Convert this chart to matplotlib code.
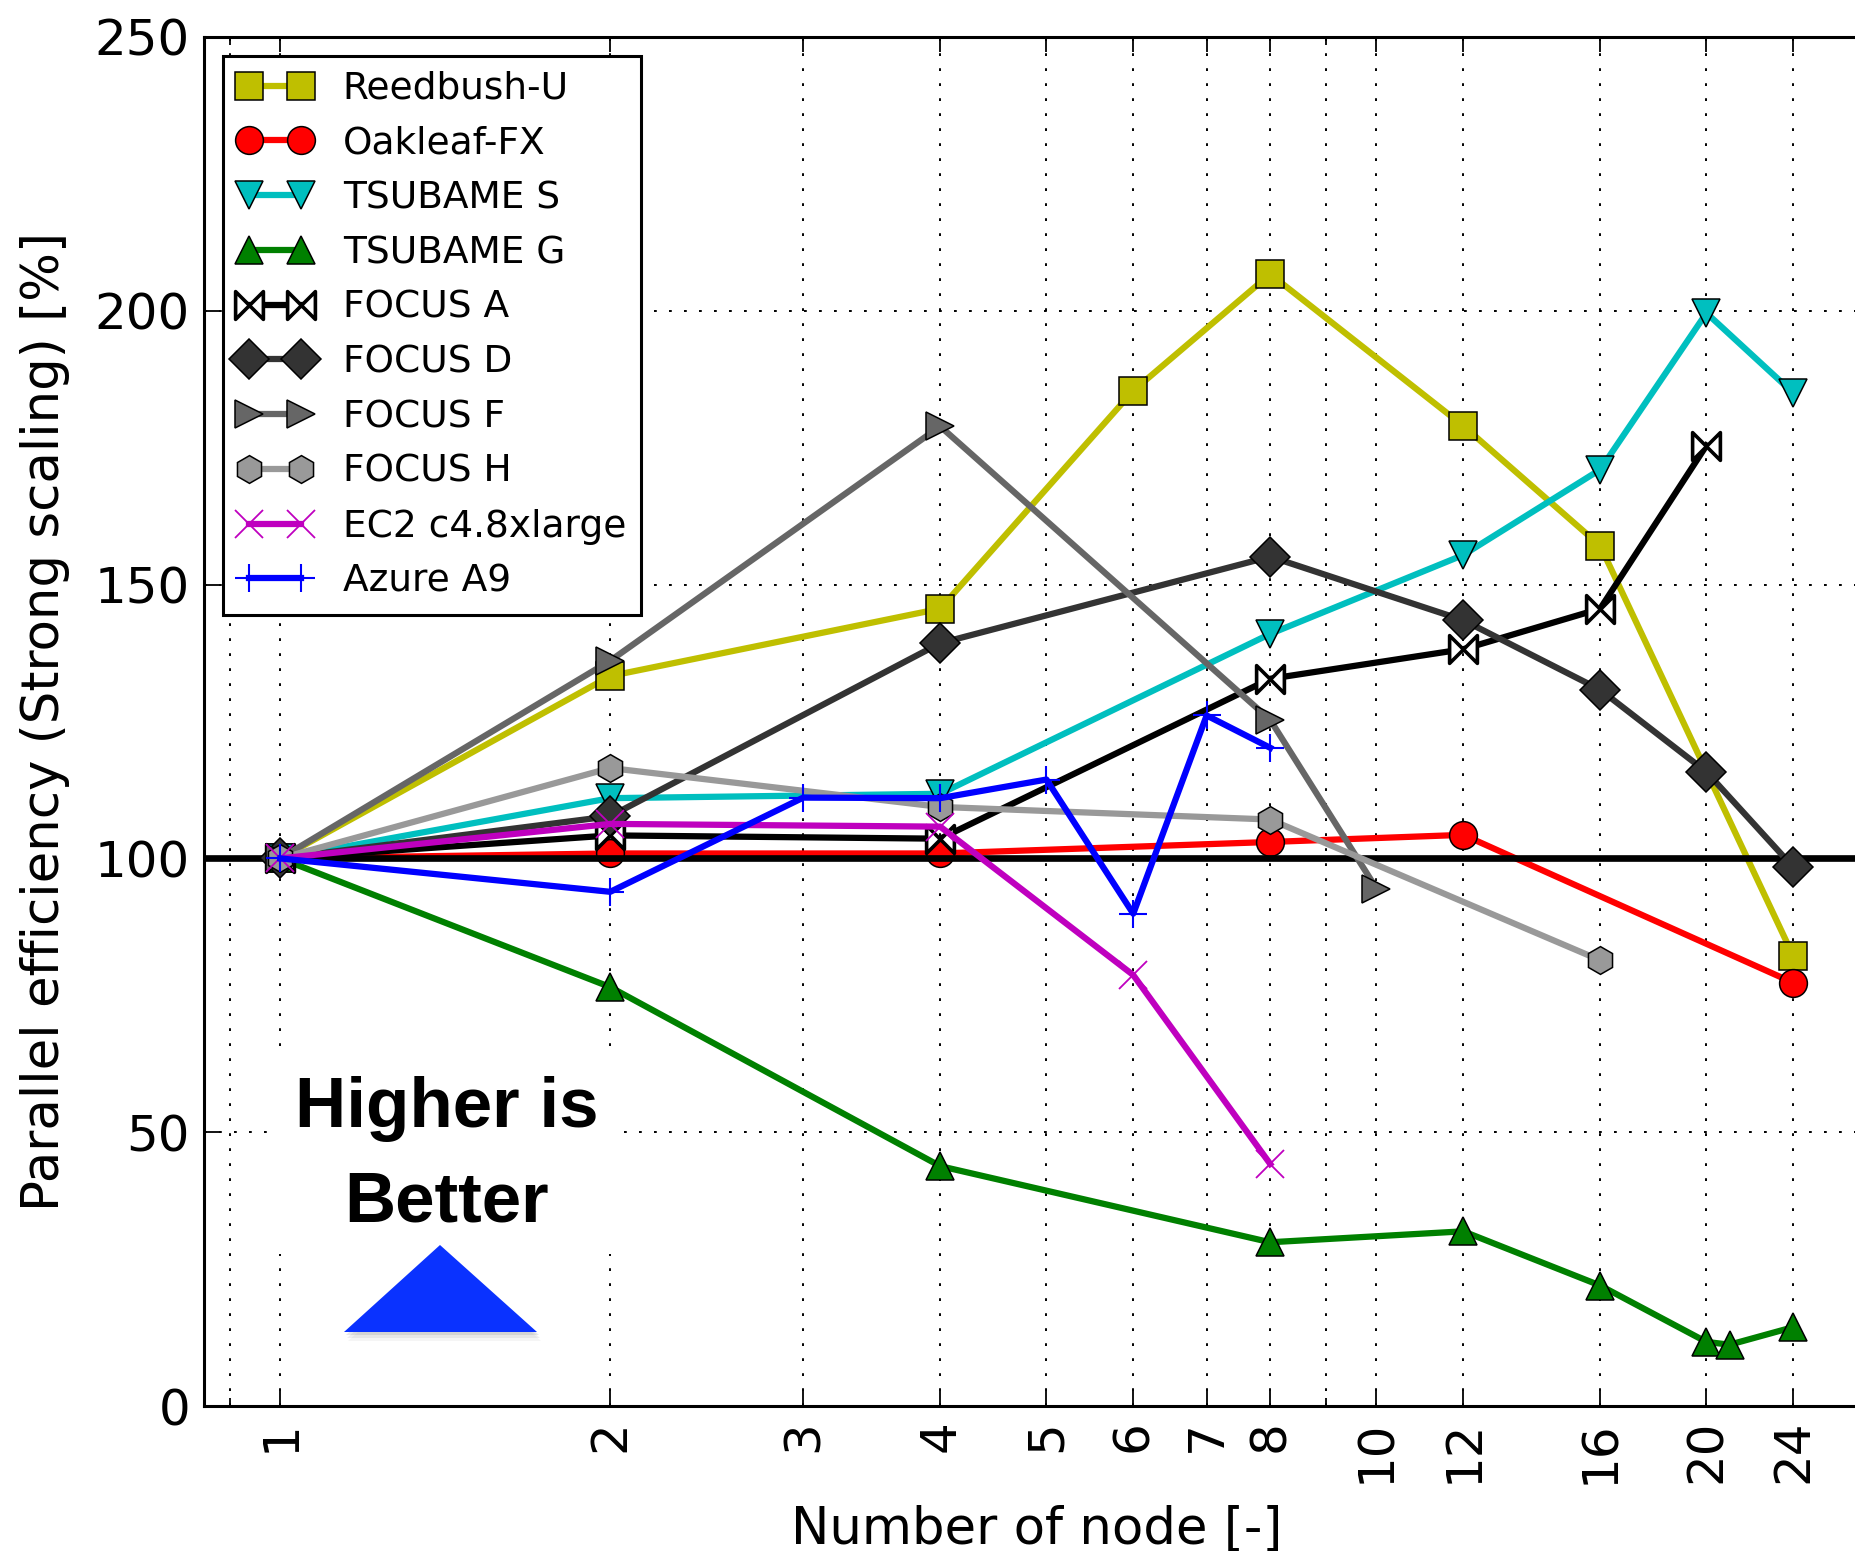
import numpy as np
import matplotlib
matplotlib.use('Agg')
import matplotlib.pyplot as plt
from matplotlib.path import Path
from matplotlib.patches import Polygon
from matplotlib.ticker import NullFormatter

plt.rcParams['lines.scale_dashes'] = False
plt.rcParams['font.family'] = ['DejaVu Sans']

# data (x = number of nodes, y = parallel efficiency %)
reedbush_x = [1, 2, 4, 6, 8, 12, 16, 24]
reedbush_y = [100, 133.3, 145.6, 185.4, 206.7, 179.0, 157.1, 82.2]
oakleaf_x = [1, 2, 4, 8, 12, 24]
oakleaf_y = [100, 100.9, 100.9, 103.0, 104.3, 77.3]
tsubame_s_x = [1, 2, 4, 8, 12, 16, 20, 24]
tsubame_s_y = [100, 111.0, 111.8, 141.0, 155.4, 171.0, 199.6, 185.0]
tsubame_g_x = [1, 2, 4, 8, 12, 16, 20, 21, 24]
tsubame_g_y = [100, 76.5, 43.8, 29.9, 31.9, 22.0, 11.7, 11.2, 14.4]
focus_a_x = [1, 2, 4, 8, 12, 16, 20]
focus_a_y = [100, 104.2, 103.6, 132.8, 138.2, 145.6, 175.4]
focus_d_x = [1, 2, 4, 8, 12, 16, 20, 24]
focus_d_y = [100, 107.7, 139.3, 155.1, 143.5, 130.8, 115.8, 98.4]
focus_f_x = [1, 2, 4, 8, 10]
focus_f_y = [100, 136.1, 178.9, 125.3, 94.5]
focus_h_x = [1, 2, 4, 8, 16]
focus_h_y = [100, 116.5, 109.4, 107.1, 81.4]
ec2_x = [1, 2, 4, 6, 8]
ec2_y = [100, 106.3, 105.8, 78.7, 44.2]
azure_x = [1, 2, 3, 4, 5, 6, 7, 8]
azure_y = [100, 93.9, 111.1, 111.0, 114.4, 89.9, 126.1, 120.2]

xticks = [1, 2, 3, 4, 5, 6, 7, 8, 10, 12, 16, 20, 24]
xtick_labels = ['1', '2', '3', '4', '5', '6', '7', '8', '10', '12', '16', '20', '24']
yticks = [0, 50, 100, 150, 200, 250]

W, H = 1856, 1551
fig = plt.figure(figsize=(W / 100, H / 100), dpi=100)
ax = fig.add_axes([204 / W, (H - 1406) / H, (1870 - 204) / W, (1406 - 37) / H])

def px(x, y):
    return (x / W, 1 - y / H)

# 蝶形标记 (FOCUS A)
bowtie = Path([(-1, 1), (-1, -1), (1, 1), (1, -1), (-1, 1)],
              [Path.MOVETO, Path.LINETO, Path.LINETO, Path.LINETO, Path.CLOSEPOLY])

LW = 4.5
MS = 20
MEW = 1.1
yel = (0.75, 0.75, 0)
cya = (0, 0.75, 0.75)
grn = (0, 0.5, 0)
mag = (0.75, 0, 0.75)

ax.plot(reedbush_x, reedbush_y, '-s', color=yel, lw=LW, ms=MS, mec='k', mew=MEW, label='Reedbush-U')
ax.plot(oakleaf_x, oakleaf_y, '-o', color='r', lw=LW, ms=MS, mec='k', mew=MEW, label='Oakleaf-FX')
ax.axhline(100, color='k', lw=4.8)
ax.plot(tsubame_s_x, tsubame_s_y, '-v', color=cya, lw=LW, ms=MS, mec='k', mew=MEW, label='TSUBAME S')
ax.plot(tsubame_g_x, tsubame_g_y, '-^', color=grn, lw=LW, ms=MS, mec='k', mew=MEW, label='TSUBAME G')
ax.plot(focus_a_x, focus_a_y, '-', marker=bowtie, color='k', lw=LW, ms=MS, mfc='w', mec='k', mew=2.6, label='FOCUS A')
ax.plot(focus_d_x, focus_d_y, '-D', color='#333333', lw=LW, ms=MS, mec='k', mew=MEW, label='FOCUS D')
ax.plot(focus_f_x, focus_f_y, '->', color='#666666', lw=LW, ms=MS, mec='k', mew=MEW, label='FOCUS F')
ax.plot(focus_h_x, focus_h_y, '-h', color='#999999', lw=LW, ms=MS, mec='k', mew=MEW, label='FOCUS H')
ax.plot(ec2_x, ec2_y, '-x', color=mag, lw=LW, ms=MS, mew=1.3, label='EC2 c4.8xlarge')
ax.plot(azure_x, azure_y, '-+', color='b', lw=LW, ms=MS, mew=1.5, label='Azure A9')

ax.set_xscale('log')
ax.set_xlim(0.852, 28.2)
ax.set_ylim(0, 250)
ax.set_xticks(xticks, xtick_labels)
ax.set_xticks([0.9, 9], minor=True)
ax.xaxis.set_minor_formatter(NullFormatter())
ax.set_yticks(yticks)

ax.tick_params(which='major', direction='in', length=11, width=1.3, top=True, right=True,
               labelsize=36, pad=10)
ax.tick_params(which='minor', direction='in', length=6, width=1.3, top=True, right=True)
ax.tick_params(axis='x', labelrotation=90)
for s in ax.spines.values():
    s.set_linewidth(2.2)

ax.grid(True, which='both', color='k', linestyle=(0, (2, 8.8)), linewidth=1.4)

ax.set_xlabel('Number of node [-]', fontsize=37)
ax.set_ylabel('Parallel efficiency (Strong scaling) [%]', fontsize=37)
ax.xaxis.set_label_coords(0.5, -0.0715)
ax.yaxis.set_label_coords(-0.0805, 0.5)

leg = ax.legend(loc='upper left', numpoints=2, fontsize=27, handlelength=2.0,
                fancybox=False, framealpha=1, edgecolor='k', borderaxespad=0.5)
leg.get_frame().set_linewidth(2.2)

# "Higher is Better" 注释
ax.text(*px(447, 1156), 'Higher is\nBetter', transform=fig.transFigure,
        ha='center', va='center', fontsize=51, fontweight='bold', family='Liberation Sans',
        linespacing=1.55, bbox=dict(boxstyle='square,pad=0.25', fc='white', ec='none'))

tri = [(344, 1332), (537, 1332), (440, 1245)]
for dx, dy, a in [(4, 9, 0.08), (3, 6, 0.12), (2, 3, 0.18)]:
    ax.add_patch(Polygon([px(x + dx, y + dy) for x, y in tri], closed=True,
                         transform=fig.transFigure, fc='gray', ec='none', alpha=a, zorder=4))
ax.add_patch(Polygon([px(x, y) for x, y in tri], closed=True, transform=fig.transFigure,
                     fc='#0a32ff', ec='none', zorder=5))

fig.savefig('out.png', dpi=100)
